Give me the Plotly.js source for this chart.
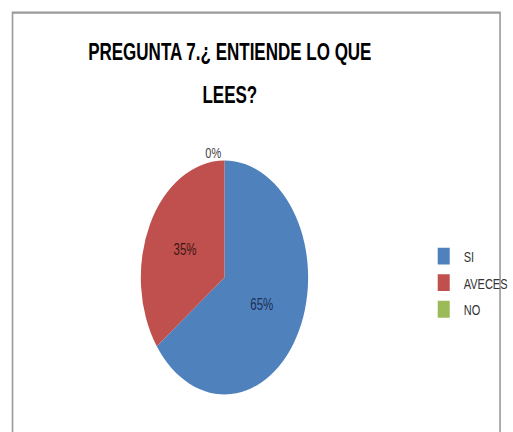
<!DOCTYPE html>
<html>
<head>
<meta charset="utf-8">
<script src="https://cdn.plot.ly/plotly-3.0.1.min.js"></script>
<style>
html, body { margin: 0; padding: 0; background: #fff; overflow: hidden; }
#wrap { width: 513px; height: 432px; overflow: hidden; }
#chart { width: 513px; height: 309px; transform: scaleY(1.398); transform-origin: 0 0; }
</style>
</head>
<body>
<div id="wrap"><div id="chart"></div></div>
<script>
const categories = ['SI', 'AVECES', 'NO'];
const values = [65, 35, 0];
const sliceColors = ['#4F81BD', '#C0504D', '#9BBB59'];
const titleLines = ['PREGUNTA 7.¿ ENTIENDE LO QUE', 'LEES?'];

const trace = {
  type: 'pie',
  labels: categories,
  values: values,
  sort: false,
  direction: 'clockwise',
  rotation: 0,
  marker: { colors: sliceColors, line: { width: 0 } },
  texttemplate: '%{percent:.0%}',
  textposition: ['inside', 'inside', 'outside'],
  insidetextorientation: 'horizontal',
  textfont: { family: 'Liberation Sans Narrow, Arial Narrow, sans-serif', size: 11.5, color: ['#1c2e55', '#3d1515', '#444444'] },
  outsidetextfont: { family: 'Liberation Sans Narrow, Arial Narrow, sans-serif', size: 11, color: '#444444' },
  domain: { x: [0.2805, 0.6138], y: [0.0809, 0.6343] },
  hoverinfo: 'label+percent',
  showlegend: true
};

const layout = {
  width: 513,
  height: 309,
  margin: { l: 0, r: 0, t: 0, b: 0 },
  paper_bgcolor: '#ffffff',
  font: { family: 'Liberation Sans Narrow, Arial Narrow, sans-serif', color: '#000' },
  title: {
    text: titleLines.map(t => '<span style="font-size:17px">' + t + '</span>').join('<br>'),
    font: { family: 'Liberation Sans Narrow, Arial Narrow, sans-serif', size: 23.5, color: '#000', weight: 'bold' },
    x: 0.448, xanchor: 'center', xref: 'container',
    y: 0.861, yanchor: 'top', yref: 'container'
  },
  legend: {
    x: 433 / 513, xanchor: 'left',
    y: 0.454, yanchor: 'top',
    font: { size: 11, color: '#333' },
    bgcolor: 'rgba(0,0,0,0)'
  },
  shapes: [{
    type: 'rect', xref: 'paper', yref: 'paper',
    x0: 12.8 / 513, x1: 511 / 513, y0: -0.1, y1: 1 - 9 / 309,
    line: { color: '#9a9a9a', width: 1.6 }, fillcolor: 'rgba(0,0,0,0)'
  }]
};

Plotly.newPlot('chart', [trace], layout, { staticPlot: true, displayModeBar: false });
</script>
</body>
</html>
